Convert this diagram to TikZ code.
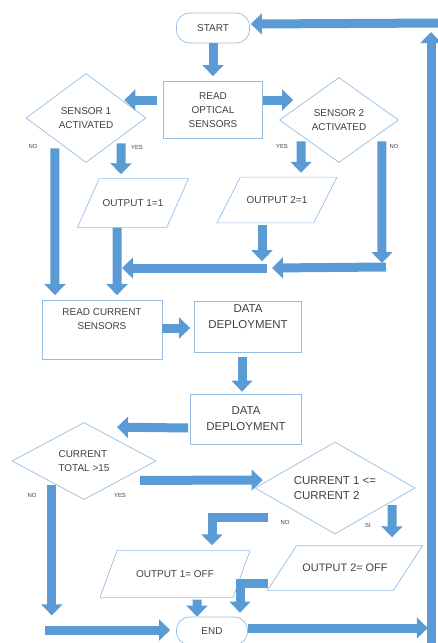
\documentclass[tikz,border=0pt]{standalone}
\usepackage{fontspec}
\setmainfont{Liberation Sans}
\usepackage{tikz}
\usetikzlibrary{shapes.geometric,arrows.meta,calc}

\definecolor{flowblue}{HTML}{5B9BD5}
\definecolor{edgeblue}{HTML}{95BDE3}
\definecolor{inkgray}{HTML}{404040}

\tikzset{
    box/.style={draw=edgeblue, line width=0.6pt, text=inkgray, align=center,
        font=\fontsize{8.5}{12}\selectfont, inner sep=1pt},
    bigtext/.style={font=\fontsize{9.8}{13.5}\selectfont},
    term/.style={box, rounded corners=0.4cm},
    ask/.style={box, diamond, aspect=1.4, inner sep=0pt},
    io/.style={box, trapezium, trapezium stretches body=true, inner xsep=2pt},
    flow/.style={draw=flowblue, line width=0.27cm,
        -{Triangle[width=0.62cm,length=0.33cm]}},
    tag/.style={text=inkgray, font=\fontsize{5}{6}\selectfont, inner sep=0pt},
}

\begin{document}
\begin{tikzpicture}[x=0.03cm, y=-0.03cm]
        \useasboundingbox (0,0) rectangle (437,643);

        % shapes
        \node[term, minimum width=2.19cm, minimum height=0.9cm] (start) at (213,28) {START};
        \node[box, minimum width=2.97cm, minimum height=1.71cm] (read) at (213,110) {READ\\OPTICAL\\SENSORS};
        \node[ask, minimum width=3.6cm, minimum height=2.67cm] (s1) at (86,118) {SENSOR 1\\ACTIVATED};
        \node[ask, minimum width=3.57cm, minimum height=2.55cm] (s2) at (339,120) {SENSOR 2\\ACTIVATED};
        \node[io, trapezium left angle=66, trapezium right angle=114,
            inner ysep=0.625cm, minimum width=3.33cm] (out1) at (133,203) {OUTPUT 1=1};
        \node[io, trapezium left angle=63, trapezium right angle=117,
            inner ysep=0.58cm, minimum width=3.6cm] (out2) at (277,200) {OUTPUT 2=1};
        \node[box, minimum width=3.6cm, minimum height=1.77cm] (rcur) at (102,330) {READ CURRENT\\SENSORS\\[6pt]};
        \node[box, bigtext, minimum width=3.21cm, minimum height=1.53cm] (dd1) at (248,327) {DATA\\DEPLOYMENT\\[4pt]};
        \node[box, bigtext, minimum width=3.33cm, minimum height=1.5cm] (dd2) at (246,419) {DATA\\DEPLOYMENT};
        \node[ask, align=left, minimum width=4.32cm, minimum height=2.31cm] (d3) at (84,461) {CURRENT\\TOTAL >15};
        \node[ask, bigtext, align=left, minimum width=4.8cm, minimum height=2.76cm] (d4) at (335,488) {CURRENT 1 <=\\CURRENT 2};
        \node[io, trapezium left angle=70, trapezium right angle=110,
            inner ysep=0.595cm, minimum width=4.5cm] (off1) at (175,574) {OUTPUT 1= OFF};
        \node[io, font=\fontsize{9.3}{12}\selectfont, trapezium left angle=57, trapezium right angle=123,
            inner ysep=0.555cm, minimum width=4.65cm] (off2) at (345,568) {OUTPUT 2= OFF};
        \node[term, minimum width=2.13cm, minimum height=0.84cm] (end) at (212,631) {END};

        % branch labels
        \node[tag] (no1) at (33,146) {NO};
        \node[tag] (yes1) at (137,147) {YES};
        \node[tag] (yes2) at (282,146) {YES};
        \node[tag] (no2) at (394,146) {NO};
        \node[tag] (no3) at (32,495) {NO};
        \node[tag] (yes3) at (120,495) {YES};
        \node[tag] (no4) at (285,522) {NO};
        \node[tag] (si4) at (368,525) {SI};

        % joins and loop back
        \coordinate (join2) at (386,267);
        \coordinate (join1) at (267,268);
        \coordinate (loopbot) at (431,655);
        \coordinate (looptop) at (431,32);
        \coordinate (loopin) at (445,23);

        % arrows
        \draw[flow] (start.south) -- ($(read.north)+(0,-5)$);
        \draw[flow] ($(read.west)+(-6,-10)$) -- ($(s1.east)+(-22,-18)$);
        \draw[flow] ($(read.east)+(0,-10)$) -- ($(s2.west)+(14,-20)$);
        \draw[flow] ($(s1.south west)+(-1,8)$) -- ($(rcur.north)+(-47,-5)$);
        \draw[flow] ($(s1.south east)+(5,3)$) -- ($(out1.north)+(-12,-4)$);
        \draw[flow] ($(s2.south west)+(-8,0)$) -- ($(out2.north)+(24,-4)$);
        \draw[flow] ($(s2.south east)+(13,0)$) -- ($(join2)+(-4,-4)$);
        \draw[flow] ($(out2.south)+(-15,2)$) -- ++(0,36);
        \draw[flow] (join2) -- ($(join1)+(5,0)$);
        \draw[flow] (join1) -- ++(-145,0);
        \draw[flow] ($(out1.south)+(-16,0)$) -- ($(rcur.north)+(15,-5)$);
        \draw[flow] ($(rcur.east)+(0,-2)$) -- ($(dd1.west)+(-4,1)$);
        \draw[flow] ($(dd1.south)+(-6,4)$) -- ($(dd2.north)+(-4,-2)$);
        \draw[flow] ($(dd2.west)+(-2,9)$) -- ($(d3.north)+(33,5)$);
        \draw[flow] ($(d3.south west)+(4,5)$) -- ++(0,130);
        \draw[flow] ($(d3.south east)+(20,0)$) -- ($(d4.west)+(8,-8)$);
        \draw[flow] ($(d4.south west)+(-27,6)$) -| ($(off1.north)+(37,-5)$);
        \draw[flow] ($(d4.south east)+(17,-6)$) -- ($(off2.north)+(47,-8)$);
        \draw[flow] ($(off1.south)+(22,2)$) -- ($(end.north)+(-15,0)$);
        \draw[flow] ($(off2.center)+(-77,15)$) -| ($(end.north)+(28,-4)$);
        \draw[flow] ($(end.west)+(-131,-1)$) -- ($(end.west)+(-6,-1)$);
        \draw[flow] ($(end.east)+(0,-3)$) -- ++(180,0);
        \draw[flow] (loopbot) -- (looptop);
        \draw[flow] (loopin) -- ($(start.east)+(1,-4)$);
    \end{tikzpicture}
\end{document}
